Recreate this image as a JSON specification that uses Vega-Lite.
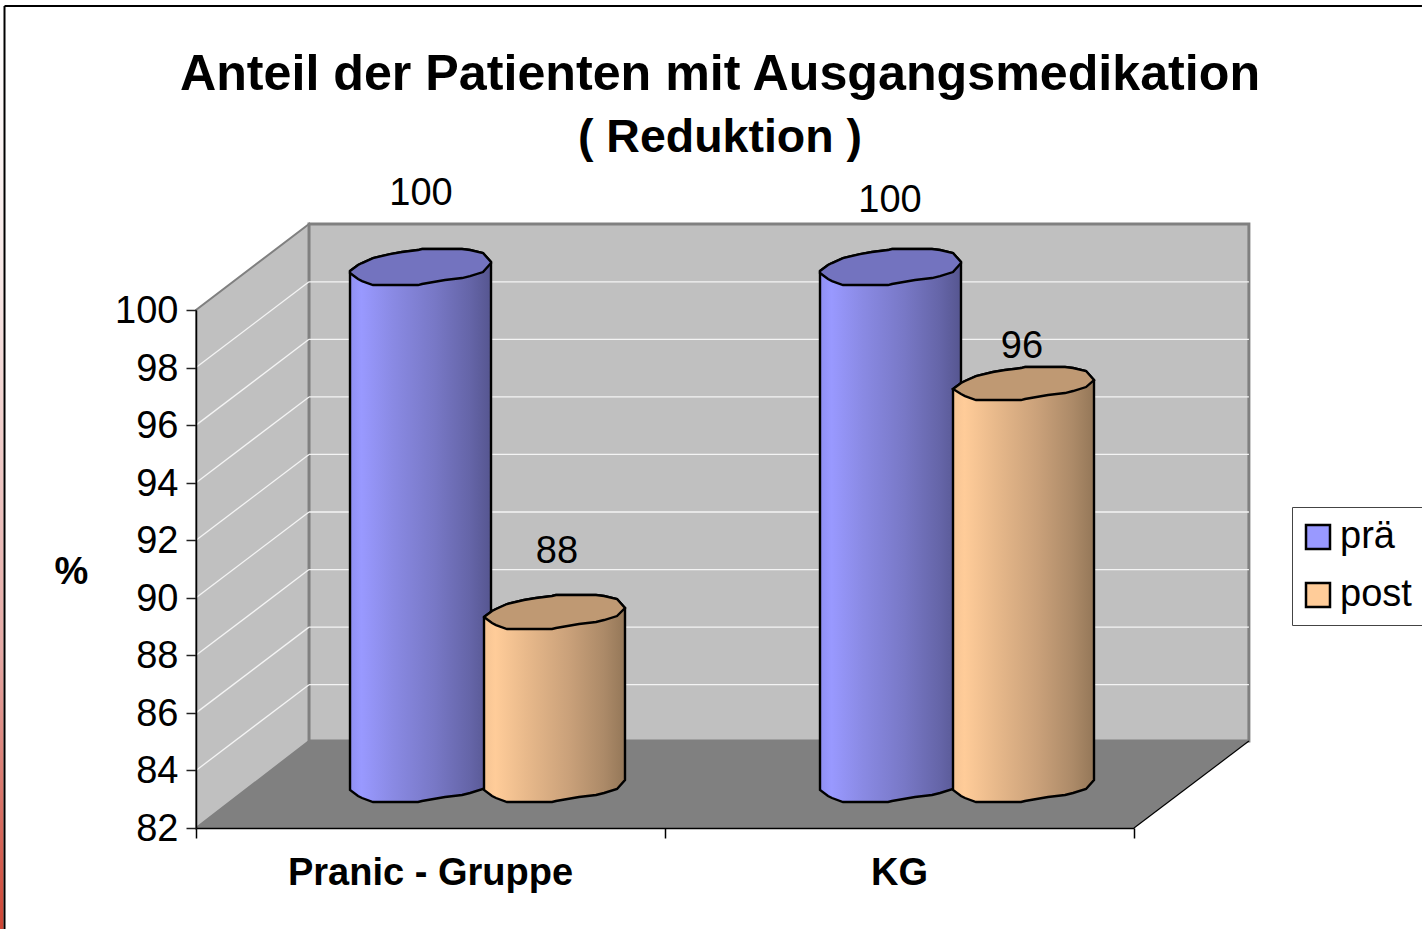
{"$schema":"https://vega.github.io/schema/vega-lite/v6.json","width":938,"height":518,"autosize":{"type":"none"},"padding":{"left":196,"top":310,"right":288,"bottom":101},"background":"white","config":{"view":{"stroke":null},"font":"Liberation Sans"},
"title":{"text":"Anteil der Patienten mit Ausgangsmedikation","subtitle":"( Reduktion )","font":"Liberation Sans","fontSize":50.2,"fontWeight":"bold","color":"black","subtitleFont":"Liberation Sans","subtitleFontSize":46.5,"subtitleFontWeight":"bold","subtitleColor":"black","subtitlePadding":14,"anchor":"middle","frame":"group","dx":55,"offset":-156},
"datasets":{
"side":[{"x":0,"y":82,"y2":100},{"x":0.241,"y":85.02,"y2":102.99}],
"back":[{"x":0.241,"y":85.02,"y2":102.99},{"x":2.245,"y":85.02,"y2":102.99}],
"floor":[{"x":0,"y":82,"y2":82},{"x":0.241,"y":85.02,"y2":82},{"x":2,"y":85.02,"y2":82},{"x":2.245,"y":85.02,"y2":85.02}],
"grid":[{"x":0,"x2":0.241,"y":84,"y2":86.98},{"x":0,"x2":0.241,"y":86,"y2":88.98},{"x":0,"x2":0.241,"y":88,"y2":90.98},{"x":0,"x2":0.241,"y":90,"y2":92.98},{"x":0,"x2":0.241,"y":92,"y2":94.98},{"x":0,"x2":0.241,"y":94,"y2":96.98},{"x":0,"x2":0.241,"y":96,"y2":98.98},{"x":0,"x2":0.241,"y":98,"y2":100.98},
{"x":0.241,"x2":2.245,"y":86.98,"y2":86.98},{"x":0.241,"x2":2.245,"y":88.98,"y2":88.98},{"x":0.241,"x2":2.245,"y":90.98,"y2":90.98},{"x":0.241,"x2":2.245,"y":92.98,"y2":92.98},{"x":0.241,"x2":2.245,"y":94.98,"y2":94.98},{"x":0.241,"x2":2.245,"y":96.98,"y2":96.98},{"x":0.241,"x2":2.245,"y":98.98,"y2":98.98},{"x":0.241,"x2":2.245,"y":100.98,"y2":100.98}],
"edge":[{"x":2,"x2":2.245,"y":82,"y2":85.02}],
"frame":[{"x":-0.4083,"x2":2.614,"y":110.56,"y2":110.56},{"x":-0.4083,"x2":-0.4083,"y":110.56,"y2":78.49}],
"strip":[{"x":-0.4179,"x2":-0.4104,"y":110.56,"y2":78.49}],
"labels":[{"x":0.4797,"y":104.03,"value":100},{"x":1.4797,"y":103.785,"value":100},{"x":0.7697,"y":91.59,"value":88},{"x":1.7612,"y":98.71,"value":96}],
"cyl":[
{"cyl":"A","series":"prä","x":0.3284,"top":101.354,"low":101.284,"base":83.32},{"cyl":"A","series":"prä","x":0.3455,"top":101.562,"low":101.076,"base":83.112},{"cyl":"A","series":"prä","x":0.354,"top":101.632,"low":101.006,"base":83.042},{"cyl":"A","series":"prä","x":0.3774,"top":101.805,"low":100.867,"base":82.903},{"cyl":"A","series":"prä","x":0.4137,"top":101.944,"low":100.867,"base":82.903},{"cyl":"A","series":"prä","x":0.4393,"top":102.014,"low":100.867,"base":82.903},{"cyl":"A","series":"prä","x":0.4734,"top":102.083,"low":100.867,"base":82.903},{"cyl":"A","series":"prä","x":0.4819,"top":102.118,"low":100.902,"base":82.938},{"cyl":"A","series":"prä","x":0.531,"top":102.118,"low":101.041,"base":83.077},{"cyl":"A","series":"prä","x":0.5672,"top":102.118,"low":101.11,"base":83.146},{"cyl":"A","series":"prä","x":0.5843,"top":102.083,"low":101.18,"base":83.216},{"cyl":"A","series":"prä","x":0.612,"top":101.979,"low":101.319,"base":83.355},{"cyl":"A","series":"prä","x":0.629,"top":101.666,"low":101.632,"base":83.668},
{"cyl":"C","series":"prä","x":1.3305,"top":101.354,"low":101.284,"base":83.32},{"cyl":"C","series":"prä","x":1.3476,"top":101.562,"low":101.076,"base":83.112},{"cyl":"C","series":"prä","x":1.3561,"top":101.632,"low":101.006,"base":83.042},{"cyl":"C","series":"prä","x":1.3795,"top":101.805,"low":100.867,"base":82.903},{"cyl":"C","series":"prä","x":1.4158,"top":101.944,"low":100.867,"base":82.903},{"cyl":"C","series":"prä","x":1.4414,"top":102.014,"low":100.867,"base":82.903},{"cyl":"C","series":"prä","x":1.4755,"top":102.083,"low":100.867,"base":82.903},{"cyl":"C","series":"prä","x":1.484,"top":102.118,"low":100.902,"base":82.938},{"cyl":"C","series":"prä","x":1.5331,"top":102.118,"low":101.041,"base":83.077},{"cyl":"C","series":"prä","x":1.5693,"top":102.118,"low":101.11,"base":83.146},{"cyl":"C","series":"prä","x":1.5864,"top":102.083,"low":101.18,"base":83.216},{"cyl":"C","series":"prä","x":1.6141,"top":101.979,"low":101.319,"base":83.355},{"cyl":"C","series":"prä","x":1.6311,"top":101.666,"low":101.632,"base":83.668},
{"cyl":"B","series":"post","x":0.6141,"top":89.332,"low":89.331,"base":83.32},{"cyl":"B","series":"post","x":0.6312,"top":89.54,"low":89.123,"base":83.112},{"cyl":"B","series":"post","x":0.6397,"top":89.61,"low":89.053,"base":83.042},{"cyl":"B","series":"post","x":0.6631,"top":89.783,"low":88.914,"base":82.903},{"cyl":"B","series":"post","x":0.6994,"top":89.922,"low":88.914,"base":82.903},{"cyl":"B","series":"post","x":0.725,"top":89.992,"low":88.914,"base":82.903},{"cyl":"B","series":"post","x":0.7591,"top":90.061,"low":88.914,"base":82.903},{"cyl":"B","series":"post","x":0.7676,"top":90.096,"low":88.949,"base":82.938},{"cyl":"B","series":"post","x":0.8167,"top":90.096,"low":89.088,"base":83.077},{"cyl":"B","series":"post","x":0.8529,"top":90.096,"low":89.157,"base":83.146},{"cyl":"B","series":"post","x":0.87,"top":90.061,"low":89.227,"base":83.216},{"cyl":"B","series":"post","x":0.8977,"top":89.957,"low":89.366,"base":83.355},{"cyl":"B","series":"post","x":0.9147,"top":89.644,"low":89.644,"base":83.668},
{"cyl":"D","series":"post","x":1.6141,"top":97.254,"low":97.254,"base":83.32},{"cyl":"D","series":"post","x":1.6312,"top":97.462,"low":97.08,"base":83.112},{"cyl":"D","series":"post","x":1.6397,"top":97.532,"low":97.01,"base":83.042},{"cyl":"D","series":"post","x":1.6631,"top":97.705,"low":96.871,"base":82.903},{"cyl":"D","series":"post","x":1.6994,"top":97.844,"low":96.871,"base":82.903},{"cyl":"D","series":"post","x":1.725,"top":97.914,"low":96.871,"base":82.903},{"cyl":"D","series":"post","x":1.7591,"top":97.983,"low":96.871,"base":82.903},{"cyl":"D","series":"post","x":1.7676,"top":98.018,"low":96.906,"base":82.938},{"cyl":"D","series":"post","x":1.8167,"top":98.018,"low":97.045,"base":83.077},{"cyl":"D","series":"post","x":1.8529,"top":98.018,"low":97.114,"base":83.146},{"cyl":"D","series":"post","x":1.87,"top":97.983,"low":97.184,"base":83.216},{"cyl":"D","series":"post","x":1.8977,"top":97.879,"low":97.323,"base":83.355},{"cyl":"D","series":"post","x":1.9147,"top":97.566,"low":97.566,"base":83.668}
]},
"encoding":{
"x":{"field":"x","type":"quantitative","scale":{"domain":[0,2],"nice":false,"zero":false},"axis":{"title":null,"values":[0,1,2],"grid":false,"tickSize":10,"tickColor":"black","tickWidth":1.5,"domainColor":"black","domainWidth":1.5,"labelExpr":"datum.value==0?'Pranic - Gruppe':datum.value==1?'KG':''","labelOffset":234,"labelFont":"Liberation Sans","labelFontSize":38,"labelFontWeight":"bold","labelColor":"black","labelPadding":16,"labelLimit":500,"labelOverlap":false,"labelBound":false,"labelFlush":false,"zindex":1}},
"y":{"field":"y","type":"quantitative","scale":{"domain":[82,100],"nice":false,"zero":false},"axis":{"title":"%","titleAngle":0,"titleX":-125,"titleY":262,"titleAlign":"center","titleBaseline":"middle","titleFont":"Liberation Sans","titleFontSize":38,"titleFontWeight":"bold","titleColor":"black","values":[82,84,86,88,90,92,94,96,98,100],"grid":false,"tickSize":10,"tickColor":"#222222","tickWidth":1.5,"domainColor":"black","domainWidth":1.5,"labelFont":"Liberation Sans","labelFontSize":38,"labelColor":"black","labelPadding":8,"labelOffset":1.5,"labelOverlap":false,"labelBound":false,"labelFlush":false,"zindex":1}}
},
"layer":[
{"data":{"name":"strip"},"mark":{"type":"rect","fill":{"gradient":"linear","x1":0,"y1":0,"x2":0,"y2":1,"stops":[{"offset":0,"color":"#ffffff"},{"offset":0.3,"color":"#f7e6e4"},{"offset":0.7,"color":"#e4a8a4"},{"offset":1,"color":"#cc4433"}]}},"encoding":{"x2":{"field":"x2"},"y2":{"field":"y2"}}},
{"data":{"name":"frame"},"mark":{"type":"rule","color":"black","strokeWidth":2},"encoding":{"x2":{"field":"x2"},"y2":{"field":"y2"}}},
{"data":{"name":"side"},"mark":{"type":"area","fill":"#c0c0c0","stroke":"#808080","strokeWidth":2},"encoding":{"y":{"field":"y","type":"quantitative","stack":null},"y2":{"field":"y2"}}},
{"data":{"name":"back"},"mark":{"type":"area","fill":"#c0c0c0","stroke":"#808080","strokeWidth":3},"encoding":{"y":{"field":"y","type":"quantitative","stack":null},"y2":{"field":"y2"}}},
{"data":{"name":"grid"},"mark":{"type":"rule","color":"#f4f4f4","strokeWidth":1.3},"encoding":{"x2":{"field":"x2"},"y2":{"field":"y2"}}},
{"data":{"name":"floor"},"mark":{"type":"area","fill":"#808080"},"encoding":{"y":{"field":"y","type":"quantitative","stack":null},"y2":{"field":"y2"}}},
{"data":{"name":"edge"},"mark":{"type":"rule","color":"black","strokeWidth":1.2},"encoding":{"x2":{"field":"x2"},"y2":{"field":"y2"}}},
{"data":{"name":"cyl"},"mark":{"type":"area"},"encoding":{"y":{"field":"top","type":"quantitative","stack":null},"y2":{"field":"base"},"detail":{"field":"cyl"},"color":{"field":"series","type":"nominal","scale":{"domain":["prä","post"],"range":["#9999ff","#ffcc99"]},"legend":{"title":null,"orient":"none","legendX":1096,"legendY":197,"symbolType":"square","symbolSize":576,"symbolStrokeColor":"black","symbolStrokeWidth":2.5,"symbolOffset":-4,"labelFont":"Liberation Sans","labelFontSize":38,"labelColor":"black","labelOffset":3,"rowPadding":20,"padding":11,"fillColor":"white","strokeColor":"#444444","labelLimit":200}}}},
{"data":{"name":"cyl"},"transform":[{"filter":"datum.series=='prä'"}],"mark":{"type":"area","stroke":"black","strokeWidth":2.4,"fill":{"gradient":"linear","x1":0,"y1":0,"x2":1,"y2":0,"stops":[{"offset":0,"color":"#8f8ff2"},{"offset":0.08,"color":"#9999ff"},{"offset":0.3,"color":"#8a8ae4"},{"offset":0.6,"color":"#7878c6"},{"offset":0.85,"color":"#6565a8"},{"offset":1,"color":"#565690"}]}},"encoding":{"y":{"field":"top","type":"quantitative","stack":null},"y2":{"field":"base"},"detail":{"field":"cyl"}}},
{"data":{"name":"cyl"},"transform":[{"filter":"datum.series=='post'"}],"mark":{"type":"area","stroke":"black","strokeWidth":2.4,"fill":{"gradient":"linear","x1":0,"y1":0,"x2":1,"y2":0,"stops":[{"offset":0,"color":"#f5c494"},{"offset":0.08,"color":"#ffcc99"},{"offset":0.3,"color":"#e8b98b"},{"offset":0.6,"color":"#caa17a"},{"offset":0.85,"color":"#ac8a68"},{"offset":1,"color":"#947758"}]}},"encoding":{"y":{"field":"top","type":"quantitative","stack":null},"y2":{"field":"base"},"detail":{"field":"cyl"}}},
{"data":{"name":"cyl"},"mark":{"type":"area","stroke":"black","strokeWidth":2.4},"encoding":{"y":{"field":"top","type":"quantitative","stack":null},"y2":{"field":"low"},"detail":{"field":"cyl"},"fill":{"field":"series","type":"nominal","scale":{"domain":["prä","post"],"range":["#7373bf","#bf9973"]},"legend":null}}},
{"data":{"name":"labels"},"mark":{"type":"text","font":"Liberation Sans","fontSize":38,"color":"black","baseline":"middle","align":"center"},"encoding":{"text":{"field":"value","type":"quantitative"}}}
]}
